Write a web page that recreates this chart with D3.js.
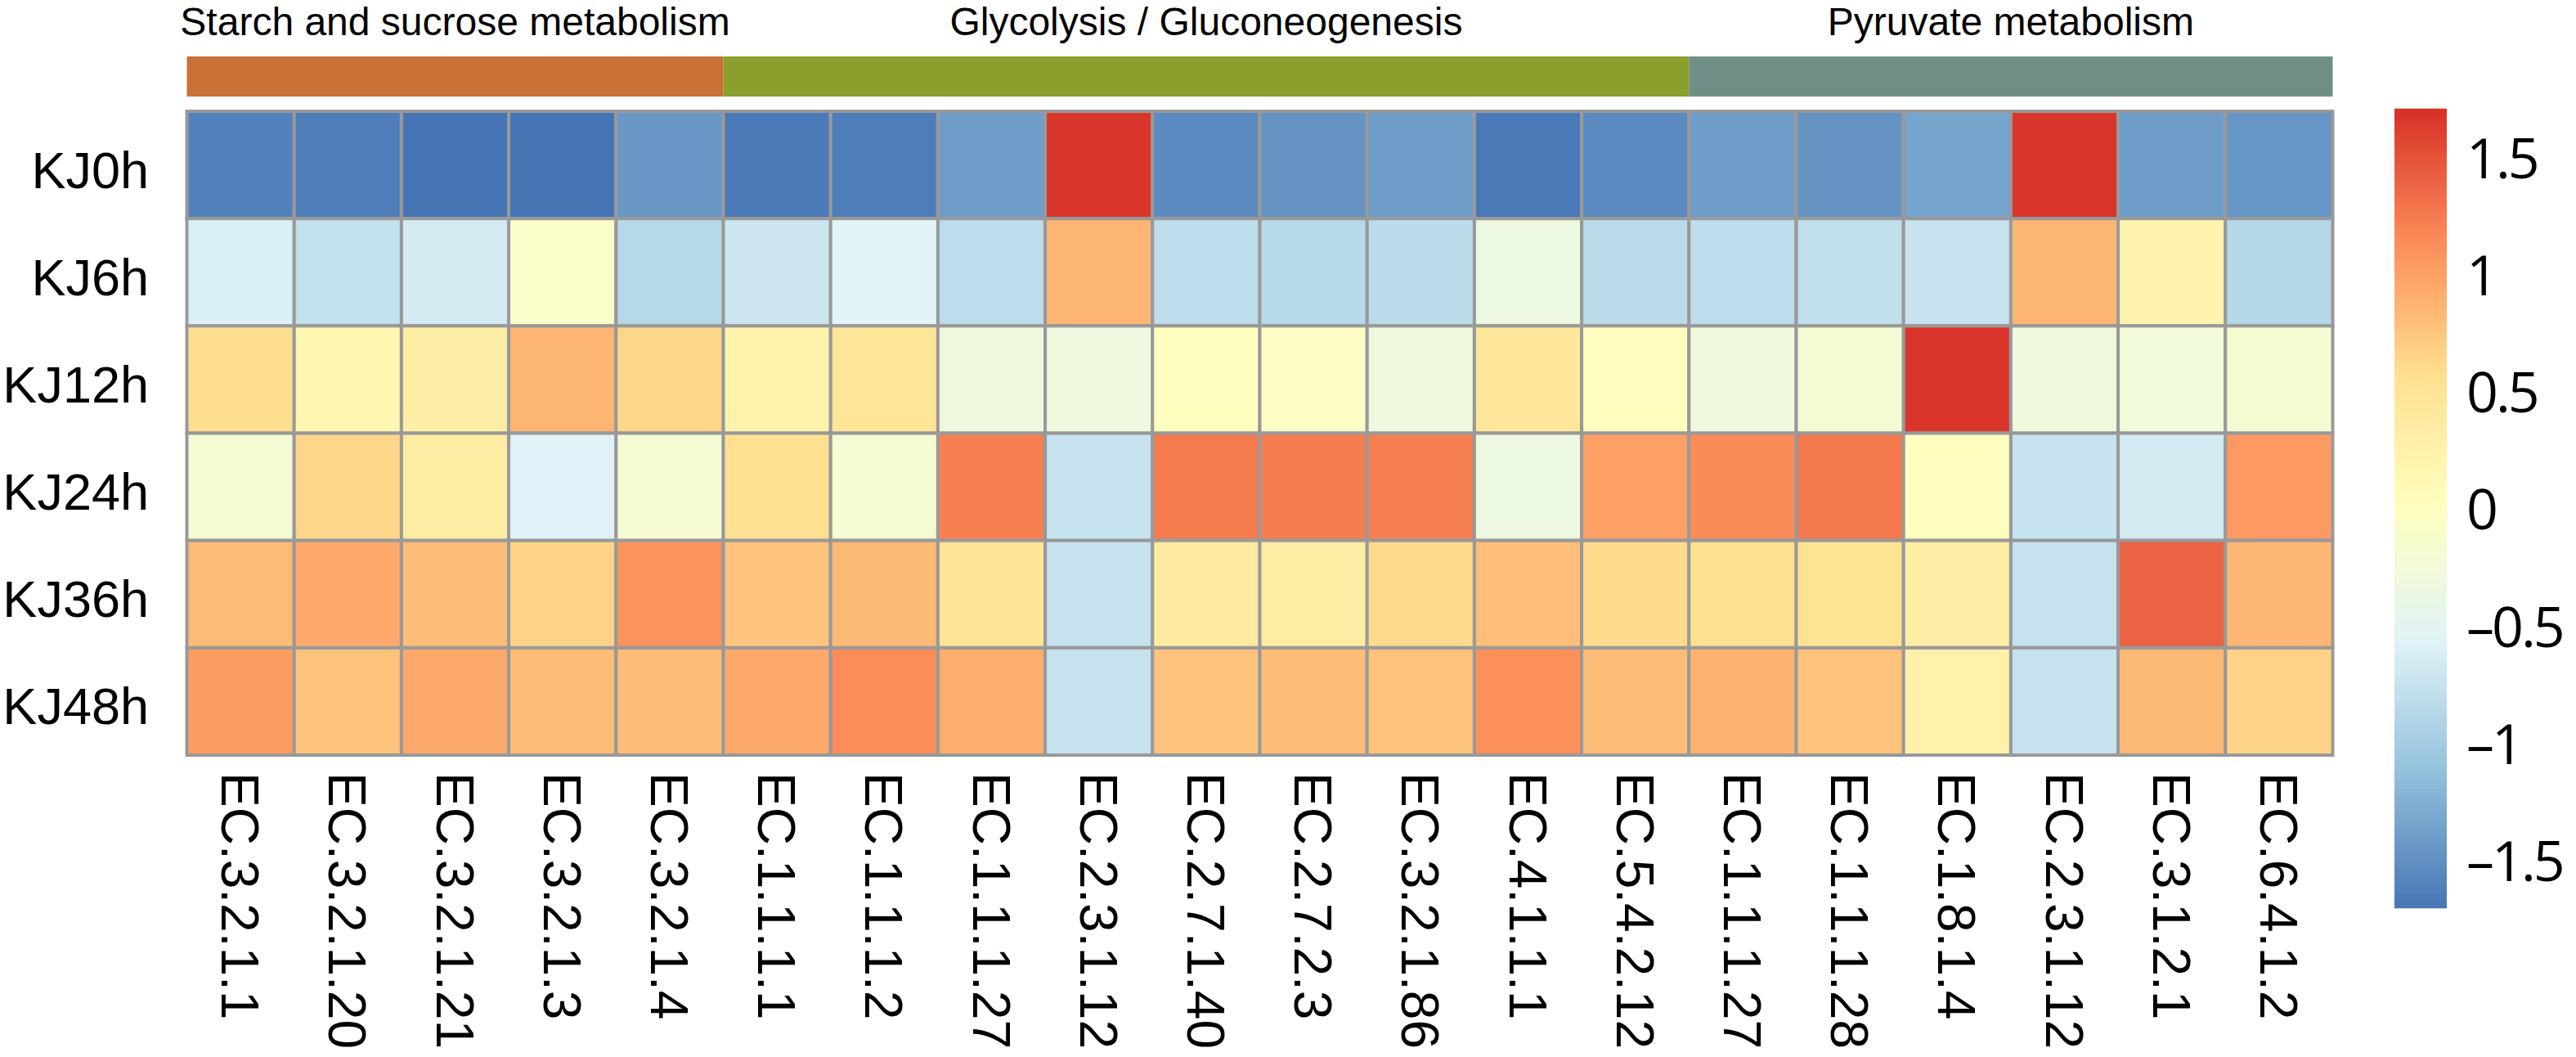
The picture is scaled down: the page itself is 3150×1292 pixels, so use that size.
<!DOCTYPE html>
<html>
<head>
<meta charset="utf-8">
<script src="https://cdn.jsdelivr.net/npm/d3@7"></script>
<style>
  html, body { margin: 0; padding: 0; background: #ffffff; }
  svg { display: block; }
</style>
</head>
<body>
<svg id="chart" width="3150" height="1292"></svg>
<script>
// ---------------- DATA ----------------
const samples = ["KJ0h", "KJ6h", "KJ12h", "KJ24h", "KJ36h", "KJ48h"];

const enzymes = [
  "EC.3.2.1.1", "EC.3.2.1.20", "EC.3.2.1.21", "EC.3.2.1.3", "EC.3.2.1.4",
  "EC.1.1.1.1", "EC.1.1.1.2", "EC.1.1.1.27", "EC.2.3.1.12", "EC.2.7.1.40",
  "EC.2.7.2.3", "EC.3.2.1.86", "EC.4.1.1.1", "EC.5.4.2.12",
  "EC.1.1.1.27", "EC.1.1.1.28", "EC.1.8.1.4", "EC.2.3.1.12", "EC.3.1.2.1", "EC.6.4.1.2"
];

const pathwayNames = ["Starch and sucrose metabolism", "Glycolysis / Gluconeogenesis", "Pyruvate metabolism"];
const pathwayColors = ["#C97137", "#8A9F2C", "#6F8F86"];
const enzymePathway = [0,0,0,0,0, 1,1,1,1,1,1,1,1,1, 2,2,2,2,2,2];

// z-scored values (per enzyme)
const kj0h  = [-1.60, -1.63, -1.70, -1.70, -1.44, -1.66, -1.63, -1.39,  1.68, -1.54, -1.46, -1.39, -1.66, -1.54, -1.39, -1.46, -1.33,  1.68, -1.39, -1.45];
const kj6h  = [-0.60, -0.77, -0.66, -0.09, -0.86, -0.71, -0.53, -0.81,  0.87, -0.81, -0.85, -0.83, -0.33, -0.84, -0.80, -0.79, -0.74,  0.87,  0.20, -0.87];
const kj12h = [ 0.58,  0.17,  0.33,  0.87,  0.64,  0.24,  0.48, -0.31, -0.31,  0.01, -0.05, -0.31,  0.44,  0.02, -0.28, -0.20,  1.68, -0.30, -0.25, -0.17];
const kj24h = [-0.20,  0.64,  0.36, -0.57, -0.20,  0.57, -0.18,  1.22, -0.74,  1.25,  1.24,  1.22, -0.33,  1.01,  1.15,  1.27,  0.02, -0.74, -0.66,  1.05];
const kj36h = [ 0.83,  0.95,  0.82,  0.66,  1.10,  0.78,  0.84,  0.50, -0.75,  0.38,  0.36,  0.61,  0.80,  0.60,  0.56,  0.52,  0.32, -0.75,  1.40,  0.86];
const kj48h = [ 1.04,  0.77,  0.96,  0.82,  0.81,  0.95,  1.14,  0.92, -0.75,  0.77,  0.81,  0.78,  1.12,  0.81,  0.89,  0.78,  0.26, -0.75,  0.84,  0.66];
const sampleValues = [kj0h, kj6h, kj12h, kj24h, kj36h, kj48h];

const legendTicks = [1.5, 1, 0.5, 0, -0.5, -1, -1.5];
const paletteColors = ["#4575B4", "#91BFDB", "#E0F3F8", "#FFFFBF", "#FEE090", "#FC8D59", "#D73027"];
const valueMin = -1.70, valueMax = 1.71;

// ---------------- LAYOUT ----------------
const FONT = "'Liberation Sans', Arial, Helvetica, sans-serif";
const LEGEND_FONT = "'Open Sans', 'Noto Sans', sans-serif";
const svg = d3.select("#chart");
const gridLeft = 228.5, gridRight = 2852.5, gridTop = 136, gridBottom = 923;

const x = d3.scaleBand().domain(d3.range(enzymes.length)).range([gridLeft, gridRight]).padding(0);
const y = d3.scaleBand().domain(samples).range([gridTop, gridBottom]).padding(0);

const stops = paletteColors.map((c, i) => valueMin + i * (valueMax - valueMin) / (paletteColors.length - 1));
const color = d3.scaleLinear().domain(stops).range(paletteColors).interpolate(d3.interpolateRgb).clamp(true);

const cells = [];
samples.forEach((s, r) => sampleValues[r].forEach((v, c) => cells.push({ s, c, v })));

// heat cells
svg.append("g").selectAll("rect").data(cells).join("rect")
  .attr("x", d => x(d.c))
  .attr("y", d => y(d.s))
  .attr("width", x.bandwidth())
  .attr("height", y.bandwidth())
  .attr("fill", d => color(d.v))
  .attr("stroke", "#999999")
  .attr("stroke-width", 4);

// annotation bar
const segs = pathwayNames.map((name, i) => {
  const idx = enzymePathway.map((p, j) => p === i ? j : -1).filter(j => j >= 0);
  return { name, color: pathwayColors[i], first: d3.min(idx), last: d3.max(idx) };
});
const annTop = 69, annH = 49;
svg.append("g").selectAll("rect").data(segs).join("rect")
  .attr("x", d => x(d.first))
  .attr("y", annTop)
  .attr("width", d => x(d.last) + x.bandwidth() - x(d.first))
  .attr("height", annH)
  .attr("fill", d => d.color);

svg.append("g").selectAll("text").data(segs).join("text")
  .attr("x", d => (x(d.first) + x(d.last) + x.bandwidth()) / 2)
  .attr("y", 43)
  .attr("text-anchor", "middle")
  .attr("font-family", FONT)
  .attr("font-size", 48)
  .attr("fill", "#000")
  .text(d => d.name);

// row labels
svg.append("g").selectAll("text").data(samples).join("text")
  .attr("x", 182)
  .attr("y", d => y(d) + y.bandwidth() / 2 + 28)
  .attr("text-anchor", "end")
  .attr("font-family", FONT)
  .attr("font-size", 63)
  .attr("fill", "#000")
  .text(d => d);

// column labels (rotated 90deg, reading downward)
svg.append("g").selectAll("text").data(enzymes).join("text")
  .attr("transform", (d, i) => `translate(${x(i) + x.bandwidth() / 2 - 23},944) rotate(90)`)
  .attr("text-anchor", "start")
  .attr("font-family", FONT)
  .attr("font-size", 64)
  .attr("fill", "#000")
  .text(d => d);

// colour legend
const legX = 2928, legW = 64, legTop = 133, legBottom = 1110;
const ly = d3.scaleLinear().domain([valueMin, valueMax]).range([legBottom, legTop]);
const nSteps = 100;
const steps = d3.range(nSteps).map(i => valueMin + (i + 0.5) * (valueMax - valueMin) / nSteps);
const stepH = (legBottom - legTop) / nSteps;
svg.append("g").selectAll("rect").data(steps).join("rect")
  .attr("x", legX)
  .attr("y", d => ly(d) - stepH / 2 - 0.3)
  .attr("width", legW)
  .attr("height", stepH + 0.6)
  .attr("fill", d => color(d));

svg.append("g").selectAll("text").data(legendTicks).join("text")
  .attr("x", 3016)
  .attr("y", d => ly(d) + 24.5)
  .attr("font-family", LEGEND_FONT)
  .attr("font-size", 68)
  .attr("letter-spacing", -3)
  .attr("fill", "#000")
  .text(d => d < 0 ? "\u2013" + Math.abs(d) : String(d));
</script>
</body>
</html>
